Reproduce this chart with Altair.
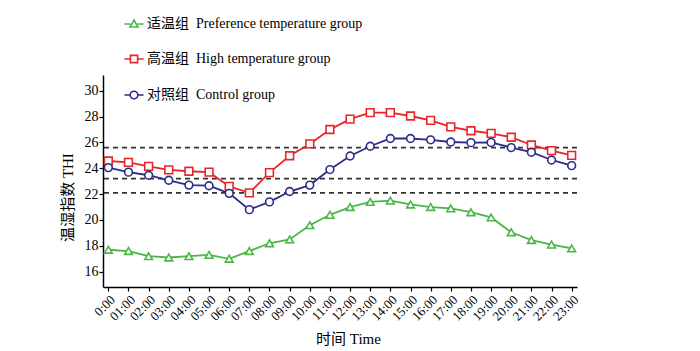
import altair as alt
import pandas as pd

times = ["0:00", "01:00", "02:00", "03:00", "04:00", "05:00", "06:00", "07:00",
         "08:00", "09:00", "10:00", "11:00", "12:00", "13:00", "14:00", "15:00",
         "16:00", "17:00", "18:00", "19:00", "20:00", "21:00", "22:00", "23:00"]

pref = [17.7, 17.6, 17.2, 17.1, 17.2, 17.3, 17.0, 17.6, 18.2, 18.5, 19.6, 20.4,
        21.0, 21.4, 21.5, 21.2, 21.0, 20.9, 20.6, 20.2, 19.05, 18.45, 18.1, 17.8]
high = [24.56, 24.46, 24.15, 23.87, 23.77, 23.7, 22.6, 22.1, 23.66, 24.97, 25.88, 27.0,
        27.8, 28.3, 28.3, 28.04, 27.7, 27.2, 26.9, 26.7, 26.4, 25.8, 25.36, 25.0]
control = [24.05, 23.7, 23.46, 23.07, 22.7, 22.65, 22.06, 20.8, 21.4, 22.2, 22.7, 23.9,
           24.95, 25.7, 26.3, 26.3, 26.2, 26.03, 25.98, 26.0, 25.6, 25.24, 24.64, 24.2]

thresholds = [25.6, 23.2, 22.1]

SP = " \u00a0"
series_names = ["适温组" + SP + "Preference temperature group",
                "高温组" + SP + "High temperature group",
                "对照组" + SP + "Control group"]
series_colors = ["#4bb648", "#e8262a", "#2b2d88"]
series_shapes = ["triangle-up", "square", "circle"]

legend_paths = [
    "M-2.4,0H-0.9M0.9,0H2.4M-1,0.75L0,-0.95L1,0.75Z",
    "M-2.4,0H-0.9M0.9,0H2.4M-0.9,-0.9H0.9V0.9H-0.9Z",
    "M-2.4,0H-0.95M0.95,0H2.4M0.95,0A0.95,0.95 0 1,1 -0.95,0A0.95,0.95 0 1,1 0.95,0Z",
]

rows = []
for name, vals in zip(series_names, [pref, high, control]):
    for t, v in zip(times, vals):
        rows.append({"time": t, "THI": v, "group": name, "marker": name})
df = pd.DataFrame(rows)
thr_df = pd.DataFrame({"thr": thresholds})
leg_df = pd.DataFrame({"group": series_names})

FONT = "Liberation Serif, Noto Sans CJK SC"

legend = alt.Legend(
    title=None, orient="none", legendX=24, legendY=-58, padding=0,
    rowPadding=21, labelFont=FONT, labelFontSize=14, labelColor="black",
    labelOffset=6, symbolSize=64, symbolStrokeWidth=1.6, direction="vertical",
    labelLimit=400, symbolFillColor="white", symbolOpacity=1,
)

x_enc = alt.X(
    "time:N", sort=times,
    scale=alt.Scale(type="point", padding=0.265),
    axis=alt.Axis(
        title="时间  Time", titleFont=FONT, titleFontSize=15, titleFontWeight="normal",
        titleColor="black", titleX=245, titleY=51, titleBaseline="middle",
        titleAlign="center",
        labelAngle=-45, labelFont=FONT, labelFontSize=13, labelColor="black",
        labelPadding=2, tickSize=4, tickColor="black", domainColor="black",
        domainWidth=1.5, tickWidth=1.2, grid=False, labelOverlap=False,
    ),
)
y_scale = alt.Scale(domain=[14.82, 31.21], nice=False, zero=False)
y_axis = alt.Axis(
    title="温湿指数  THI", titleFont=FONT, titleFontSize=15, titleFontWeight="normal",
    titleColor="black", titleX=-36, titleY=122, titleBaseline="middle",
    titleAlign="center",
    values=[16, 18, 20, 22, 24, 26, 28, 30], labelFont=FONT, labelFontSize=14,
    labelColor="black", labelPadding=1, tickSize=4, tickColor="black",
    domainColor="black", domainWidth=1.5, tickWidth=1.2, grid=False,
    labelOverlap=False,
)
y_enc = alt.Y("THI:Q", scale=y_scale, axis=y_axis)

color_scale = alt.Scale(domain=series_names, range=series_colors)
shape_scale = alt.Scale(domain=series_names, range=series_shapes)
legend_shape_scale = alt.Scale(domain=series_names, range=legend_paths)

rules = alt.Chart(thr_df).mark_rule(
    color="#333333", strokeDash=[5, 4], strokeWidth=1.8
).encode(y=alt.Y("thr:Q", scale=y_scale, axis=y_axis))

lines = alt.Chart(df).mark_line(strokeWidth=1.8).encode(
    x=x_enc, y=y_enc,
    color=alt.Color("group:N", scale=color_scale, legend=None),
    detail="group:N",
)
points = alt.Chart(df).mark_point(filled=False, fill="white", size=60, strokeWidth=1.6, opacity=1).encode(
    x=x_enc, y=y_enc,
    color=alt.Color("group:N", scale=color_scale, legend=None),
    shape=alt.Shape("marker:N", scale=shape_scale, legend=None),
)

# legend-only layer: no rows survive the filter, only the legend is drawn
legend_layer = alt.Chart(leg_df).mark_point(filled=False, strokeWidth=1.6).encode(
    stroke=alt.Stroke("group:N", scale=color_scale, legend=legend),
    shape=alt.Shape("group:N", scale=legend_shape_scale, legend=legend),
).transform_filter("false")

chart = alt.layer(rules, lines, points, legend_layer).resolve_scale(
    shape="independent", stroke="independent"
).resolve_legend(
    shape="independent", stroke="independent"
).properties(
    width=474, height=212,
    autosize=alt.AutoSizeParams(type="none"),
    padding={"left": 103, "top": 75, "right": 123, "bottom": 64},
    background="white",
).configure_view(stroke=None)

chart.save("out.html", embed_options={"renderer": "svg", "actions": False})
